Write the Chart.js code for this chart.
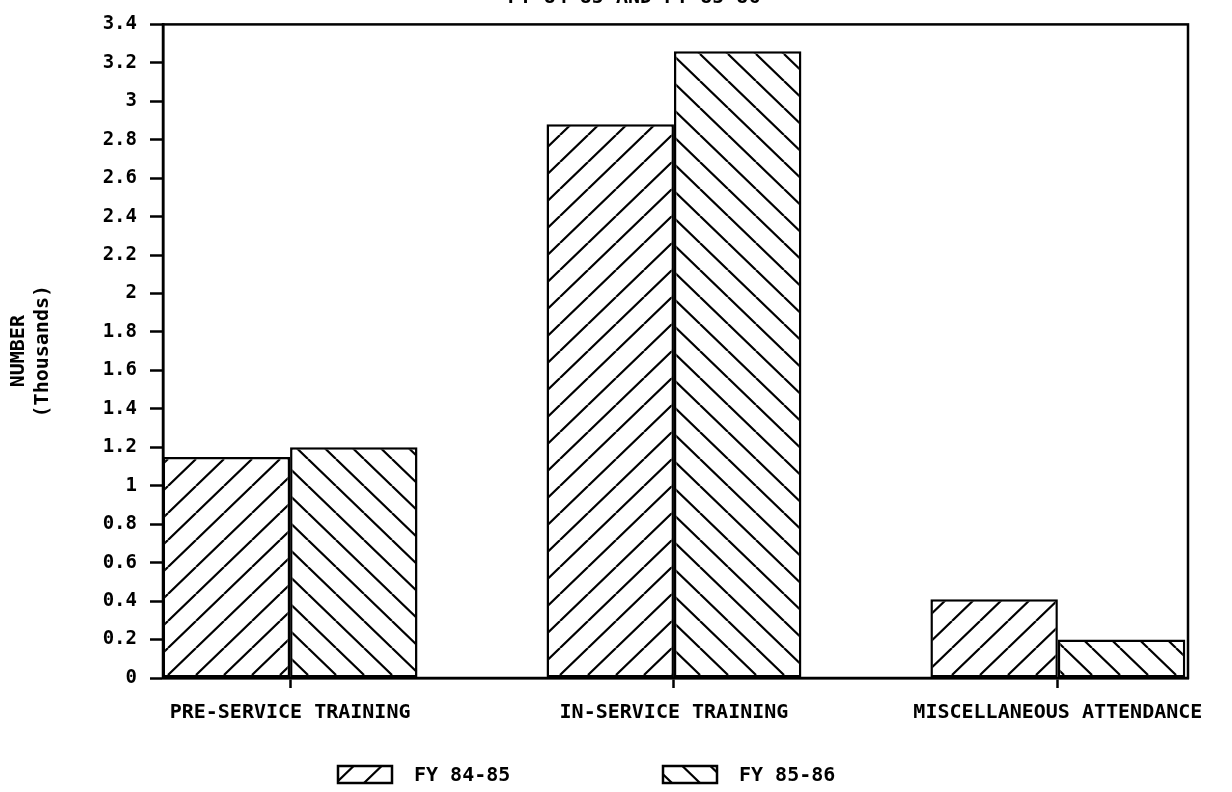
<!DOCTYPE html>
<html>
<head>
<meta charset="utf-8">
<title>Training attendance FY 84-85 and FY 85-86</title>
<script src="https://cdn.jsdelivr.net/npm/chart.js@4.4.1/dist/chart.umd.min.js"></script>
<style>
  html, body { margin: 0; padding: 0; background: #fff; }
  #wrap { width: 1232px; height: 792px; position: relative; }
</style>
</head>
<body>
<div id="wrap"><canvas id="trainingChart"></canvas></div>
<script>
// values in thousands
const categories = ['PRE-SERVICE TRAINING', 'IN-SERVICE TRAINING', 'MISCELLANEOUS ATTENDANCE'];
const fy8485 = [1.15, 2.88, 0.41];
const fy8586 = [1.20, 3.26, 0.20];
const seriesNames = ['FY 84-85', 'FY 85-86'];
const yTickLabels = ['0', '0.2', '0.4', '0.6', '0.8', '1', '1.2', '1.4', '1.6', '1.8',
                     '2', '2.2', '2.4', '2.6', '2.8', '3', '3.2', '3.4'];
const chartTitle = 'FY 84-85 AND FY 85-86';

const MONO = '"DejaVu Sans Mono", monospace';

// diagonal hatch fill: 'up' = ////, 'down' = \\\\
function hatch(dir) {
    const w = 28, h = 27;
    const c = document.createElement('canvas');
    c.width = w;
    c.height = h;
    const g = c.getContext('2d');
    g.fillStyle = '#fff';
    g.fillRect(0, 0, w, h);
    g.strokeStyle = '#000';
    g.lineWidth = 2.2;
    g.beginPath();
    for (const dx of [-w, 0, w]) {
        if (dir === 'up') {
            g.moveTo(dx, h);
            g.lineTo(dx + w, 0);
        } else {
            g.moveTo(dx, 0);
            g.lineTo(dx + w, h);
        }
    }
    g.stroke();
    return g.createPattern(c, 'repeat');
}

const toPoints = arr => arr.map((v, i) => ({ x: i, y: v }));

// frame around the plot, legend along the bottom, title line at the top
const extras = {
    id: 'extras',
    afterDatasetsDraw(chart) {
        const { ctx, chartArea: a } = chart;
        ctx.save();
        ctx.strokeStyle = '#000';
        ctx.lineWidth = 2.5;
        ctx.strokeRect(a.left, a.top, a.right - a.left, a.bottom - a.top);
        ctx.restore();
    },
    afterDraw(chart) {
        const { ctx } = chart;
        ctx.save();
        ctx.font = 'bold 20px ' + MONO;
        ctx.fillStyle = '#000';

        ctx.textAlign = 'center';
        ctx.textBaseline = 'alphabetic';
        ctx.fillText(chartTitle, 634, 3);

        const boxX = [338, 663];
        const boxY = 766, boxW = 54, boxH = 17;
        ctx.textAlign = 'left';
        ctx.textBaseline = 'middle';
        chart.data.datasets.forEach((ds, i) => {
            ctx.fillStyle = ds.backgroundColor;
            ctx.fillRect(boxX[i], boxY, boxW, boxH);
            ctx.strokeStyle = '#000';
            ctx.lineWidth = 2.5;
            ctx.strokeRect(boxX[i], boxY, boxW, boxH);
            ctx.fillStyle = '#000';
            ctx.fillText(ds.label, boxX[i] + boxW + 22, boxY + boxH / 2 + 1);
        });
        ctx.restore();
    }
};

new Chart(document.getElementById('trainingChart'), {
    type: 'bar',
    data: {
        datasets: [
            {
                label: seriesNames[0],
                data: toPoints(fy8485),
                backgroundColor: hatch('up'),
                borderColor: '#000',
                borderWidth: 2.5,
                borderSkipped: false
            },
            {
                label: seriesNames[1],
                data: toPoints(fy8586),
                backgroundColor: hatch('down'),
                borderColor: '#000',
                borderWidth: 2.5,
                borderSkipped: false
            }
        ]
    },
    options: {
        responsive: true,
        maintainAspectRatio: false,
        animation: false,
        devicePixelRatio: 1,
        categoryPercentage: 0.664,
        barPercentage: 1,
        layout: { padding: { top: 18, right: 44, bottom: 64, left: 0 } },
        plugins: {
            legend: { display: false },
            tooltip: { enabled: false }
        },
        scales: {
            x: {
                type: 'linear',
                offset: false,
                min: -0.331,
                max: 2.339,
                afterBuildTicks: scale => {
                    scale.ticks = categories.map((_, i) => ({ value: i }));
                },
                afterFit: scale => { scale.height = 50; },
                ticks: {
                    callback: (v) => categories[v],
                    color: '#000',
                    font: { family: MONO, size: 20, weight: 'bold' },
                    padding: 13,
                    maxRotation: 0,
                    autoSkip: false
                },
                grid: {
                    offset: false,
                    drawOnChartArea: false,
                    tickLength: 10,
                    tickWidth: 2.5,
                    tickColor: '#000'
                },
                border: { color: '#000', width: 2.5 }
            },
            y: {
                min: 0,
                max: 3.4,
                afterBuildTicks: scale => {
                    scale.ticks = yTickLabels.map(t => ({ value: parseFloat(t) }));
                },
                afterFit: scale => { scale.width = 163; },
                ticks: {
                    callback: (v, i) => yTickLabels[i],
                    color: '#000',
                    font: { family: MONO, size: 19, weight: 'bold' },
                    padding: 13
                },
                grid: {
                    drawOnChartArea: false,
                    tickLength: 13,
                    tickWidth: 2.5,
                    tickColor: '#000'
                },
                border: { color: '#000', width: 2.5 },
                title: {
                    display: true,
                    text: ['NUMBER', '(Thousands)'],
                    color: '#000',
                    font: { family: MONO, size: 20, weight: 'bold', lineHeight: 1.18 },
                    padding: { top: 7, bottom: 0 }
                }
            }
        }
    },
    plugins: [extras]
});
</script>
</body>
</html>
